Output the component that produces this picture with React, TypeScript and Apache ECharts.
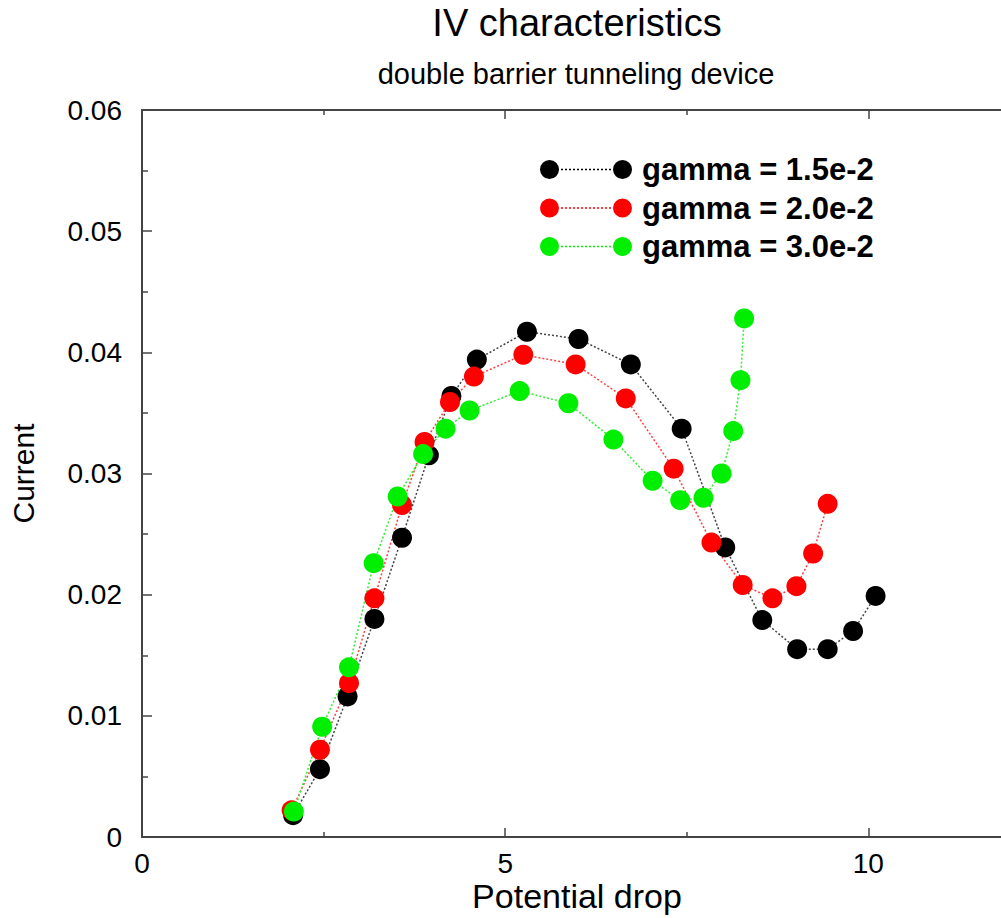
import React, { useEffect, useRef } from "react";
import * as echarts from "echarts";

const seriesNames = ["gamma = 1.5e-2", "gamma = 2.0e-2", "gamma = 3.0e-2"];
const seriesColors = ["#000000", "#ff0000", "#00ee00"];
const lineColors = ["#444444", "#ff4040", "#30ee30"];

const black: [number, number][] = [
  [2.08, 0.0018], [2.45, 0.0056], [2.83, 0.0116], [3.2, 0.018], [3.58, 0.0247],
  [3.95, 0.0315], [4.26, 0.0364], [4.61, 0.0394], [5.3, 0.0417], [6.01, 0.0411],
  [6.73, 0.039], [7.43, 0.0337], [8.03, 0.0239], [8.54, 0.0179], [9.02, 0.0155],
  [9.44, 0.0155], [9.79, 0.017], [10.1, 0.0199],
];
const red: [number, number][] = [
  [2.06, 0.0022], [2.45, 0.0072], [2.85, 0.0127], [3.2, 0.0197], [3.58, 0.0274],
  [3.89, 0.0326], [4.24, 0.0359], [4.57, 0.038], [5.25, 0.0398], [5.97, 0.039],
  [6.66, 0.0362], [7.32, 0.0304], [7.84, 0.0243], [8.27, 0.0208], [8.68, 0.0197],
  [9.01, 0.0207], [9.24, 0.0234], [9.44, 0.0275],
];
const green: [number, number][] = [
  [2.09, 0.0021], [2.48, 0.0091], [2.85, 0.014], [3.19, 0.0226], [3.52, 0.0281],
  [3.87, 0.0316], [4.18, 0.0337], [4.51, 0.0352], [5.2, 0.0368], [5.87, 0.0358],
  [6.49, 0.0328], [7.03, 0.0294], [7.41, 0.0278], [7.73, 0.028], [7.98, 0.03],
  [8.14, 0.0335], [8.24, 0.0377], [8.29, 0.0428],
];
const allData = [black, red, green];

const titleText = "IV characteristics";
const subtitleText = "double barrier tunneling device";
const xName = "Potential drop";
const yName = "Current";

function legendIconPath(): string {
  const r = 9.5;
  const circ = (cx: number) =>
    `M${cx - r},${r} A${r},${r} 0 1,0 ${cx + r},${r} A${r},${r} 0 1,0 ${cx - r},${r} Z `;
  let d = circ(r) + circ(73 + r);
  for (let x = 21; x < 73; x += 4) {
    d += `M${x},${r - 0.75} L${x + 2},${r - 0.75} L${x + 2},${r + 0.75} L${x},${r + 0.75} Z `;
  }
  return "path://" + d;
}

export default function App() {
  const ref = useRef<HTMLDivElement>(null);
  useEffect(() => {
    if (!ref.current) return;
    const chart = echarts.init(ref.current, undefined, { renderer: "svg" });
    const font = "'Liberation Sans', Arial, Helvetica, sans-serif";
    const axisLine = { show: true, lineStyle: { color: "#444", width: 2 } };
    const tick = { show: true, inside: true, length: 9, lineStyle: { color: "#444", width: 1.5 } };
    const minor = { show: true, splitNumber: 2, length: 5, lineStyle: { color: "#444", width: 1.5 } };
    chart.setOption({
      animation: false,
      backgroundColor: "#ffffff",
      textStyle: { fontFamily: font },
      grid: { left: 141, top: 110, bottom: 81, width: 1090.5, containLabel: false },
      graphic: [
        {
          type: "text",
          x: 577,
          y: 23,
          style: {
            text: titleText,
            fontSize: 38,
            fontFamily: font,
            fill: "#000",
            textAlign: "center",
            textVerticalAlign: "middle",
          },
        },
        {
          type: "text",
          x: 576,
          y: 74,
          style: {
            text: subtitleText,
            fontSize: 29,
            fontFamily: font,
            fill: "#000",
            textAlign: "center",
            textVerticalAlign: "middle",
          },
        },
        {
          type: "text",
          x: 577,
          y: 896,
          style: {
            text: xName,
            fontSize: 34,
            fontFamily: font,
            fill: "#000",
            textAlign: "center",
            textVerticalAlign: "middle",
          },
        },
      ],
      legend: {
        orient: "vertical",
        left: 540,
        top: 154,
        padding: 0,
        itemWidth: 92,
        itemHeight: 19,
        itemGap: 7.5,
        icon: legendIconPath(),
        textStyle: {
          fontSize: 31,
          fontWeight: "bold",
          color: "#000",
          fontFamily: font,
          lineHeight: 31,
          padding: [0, 0, 0, 5],
        },
        data: seriesNames,
      },
      xAxis: [
        {
          type: "value",
          min: 0,
          max: 15,
          interval: 5,
          position: "bottom",
          axisLine,
          axisTick: tick,
          minorTick: minor,
          splitLine: { show: false },
          axisLabel: { fontSize: 28, color: "#000", margin: 12, showMaxLabel: false, fontFamily: font },
        },
        {
          type: "value",
          min: 0,
          max: 15,
          interval: 5,
          position: "top",
          axisLine,
          axisTick: tick,
          minorTick: minor,
          splitLine: { show: false },
          axisLabel: { show: false },
        },
      ],
      yAxis: {
        type: "value",
        min: 0,
        max: 0.06,
        interval: 0.01,
        name: yName,
        nameLocation: "middle",
        nameRotate: 90,
        nameGap: 104,
        nameTextStyle: { fontSize: 30, color: "#000", fontFamily: font },
        axisLine,
        axisTick: { ...tick, length: 10 },
        minorTick: { ...minor, length: 6 },
        splitLine: { show: false },
        axisLabel: {
          fontSize: 28,
          color: "#000",
          margin: 20,
          fontFamily: font,
          formatter: (v: number) => (v === 0 ? "0" : v.toFixed(2)),
        },
      },
      series: allData.map((d, i) => ({
        name: seriesNames[i],
        type: "line",
        data: d,
        xAxisIndex: 0,
        symbol: "circle",
        symbolSize: 20,
        itemStyle: { color: seriesColors[i], opacity: 1 },
        lineStyle: { color: lineColors[i], width: 1.5, type: [2, 2] },
        emphasis: { disabled: true },
      })),
    });
    return () => chart.dispose();
  }, []);
  return (
    <div
      style={{
        position: "absolute",
        left: 0,
        top: 0,
        width: 1001,
        height: 918,
        overflow: "hidden",
        background: "#fff",
      }}
    >
      <div ref={ref} style={{ width: 1240, height: 918 }} />
    </div>
  );
}
